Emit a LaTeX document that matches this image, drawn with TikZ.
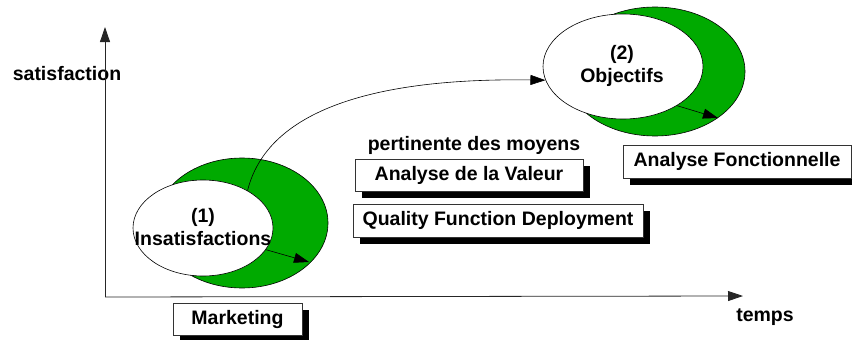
\documentclass[tikz,border=0pt]{standalone}
\usepackage{fontspec}
\setmainfont{Liberation Sans}
\usetikzlibrary{arrows.meta,shapes.geometric,shadows}
\definecolor{grn}{RGB}{0,170,0}
\begin{document}
\begin{tikzpicture}[x=1pt,y=-1pt,
  every node/.style={font=\fontsize{19.5}{23}\selectfont\bfseries},
  tip/.style={-{Triangle[length=15pt,width=10pt]}},
  axis/.style={draw=black!85,line width=0.8pt,tip},
  back/.style={ellipse,draw=black,line width=0.6pt,fill=grn,inner sep=0pt},
  front/.style={ellipse,draw=black,line width=0.6pt,fill=white,inner sep=0pt,align=center},
  lbl/.style={inner sep=0pt},
  boxed/.style={draw=black!80,line width=0.7pt,fill=white,inner sep=0pt,minimum height=32pt,
    drop shadow={shadow xshift=7pt,shadow yshift=-7pt,fill=black,opacity=1}},
  conn/.style={line width=0.6pt,tip}]
\useasboundingbox (0,0) rectangle (852,340);
% axes
\coordinate (o) at (105,297);
\coordinate (ytip) at (105,27);
\coordinate (xtip) at (743,296);
\node[lbl] (sat) at (67,74) {satisfaction};
\node[lbl] (tps) at (765,317) {temps};
\draw[axis] (o) -- (ytip);
\draw[axis] (o) -- (xtip);
% ellipses
\node[back,minimum width=172pt,minimum height=130pt] (g1) at (242,223) {};
\node[front,minimum width=140pt,minimum height=96pt] (e1) at (203,228) {};
\node[lbl,align=center] (t1) at (203,227) {(1)\\Insatisfactions};
\node[back,minimum width=180pt,minimum height=129pt] (g2) at (655,71.5) {};
\node[front,minimum width=160pt,minimum height=105pt] (e2) at (623,66.5) {};
\node[lbl,align=center] (t2) at (622,66) {(2)\\Objectifs};
\coordinate (a1) at (309,262);
\coordinate (a2) at (718,118);
\draw[conn] (e1.-19) -- (a1);
\draw[conn] (e2.-36) -- (a2);
\draw[conn] (e1.40) .. controls (270,100) and (400,78) .. (e2.190);
% text and boxes
\node[lbl] (pert) at (474,145) {pertinente des moyens};
\node[boxed,minimum width=228pt] (av) at (469,175) {Analyse de la Valeur};
\node[boxed,minimum width=290pt,minimum height=33pt] (qfd) at (498,220.5) {Quality Function Deployment};
\node[boxed,minimum width=228pt,minimum height=33pt] (af) at (737,161.5) {Analyse Fonctionnelle};
\node[boxed,minimum width=129pt] (mk) at (237.5,319) {Marketing};
\end{tikzpicture}
\end{document}
